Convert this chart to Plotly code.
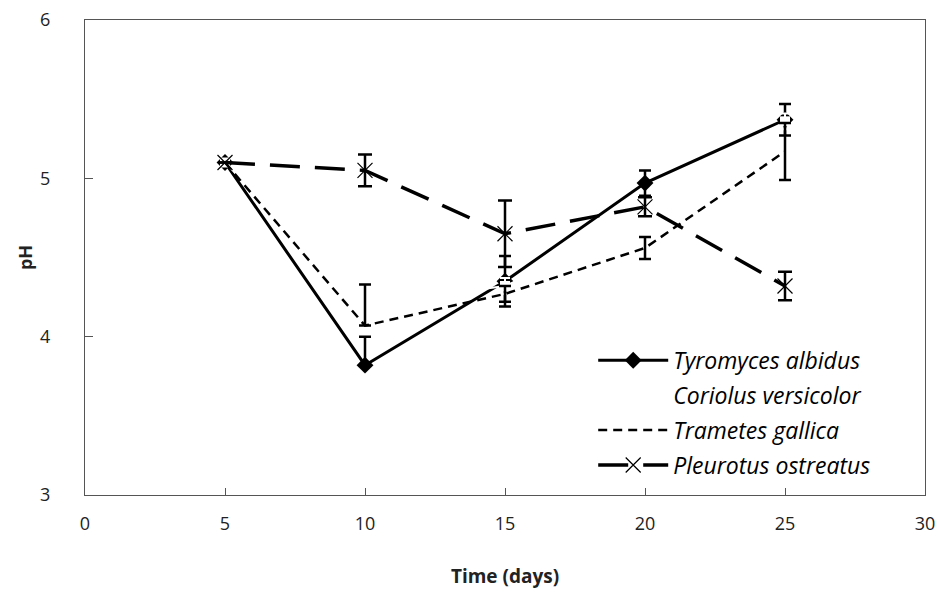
import plotly.graph_objects as go

days = [5, 10, 15, 20, 25]

tyromyces = [5.10, 3.82, 4.35, 4.97, 5.37]
tyromyces_err_up = [0.0, 0.18, 0.16, 0.08, 0.10]
tyromyces_err_dn = [0.0, 0.0, 0.16, 0.08, 0.10]

coriolus = [5.10, 4.20, 4.32, 4.70, 5.36]
coriolus_err = [0.0, 0.05, 0.05, 0.05, 0.05]

trametes = [5.10, 4.07, 4.27, 4.56, 5.17]
trametes_err_up = [0.0, 0.26, 0.05, 0.07, 0.18]
trametes_err_dn = [0.0, 0.0, 0.05, 0.07, 0.18]

pleurotus = [5.10, 5.05, 4.65, 4.82, 4.32]
pleurotus_err = [0.0, 0.10, 0.21, 0.06, 0.09]

x_ticks = [0, 5, 10, 15, 20, 25, 30]
y_ticks = [3, 4, 5, 6]

FONT = "Open Sans"

fig = go.Figure()

fig.add_trace(go.Scatter(
    x=days, y=tyromyces, name="Tyromyces albidus", mode="lines+markers",
    legendgroup="a",
    line=dict(color="black", width=3),
    marker=dict(symbol="diamond", size=13, color="black"),
    error_y=dict(type="data", array=tyromyces_err_up, arrayminus=tyromyces_err_dn,
                 color="black", thickness=2.5, width=6),
))
fig.add_trace(go.Scatter(
    x=days, y=coriolus, name="Coriolus versicolor", mode="lines+markers",
    legendgroup="b",
    line=dict(color="white", width=2),
    marker=dict(symbol="square", size=10, color="white"),
    error_y=dict(type="data", array=coriolus_err, color="white", thickness=2, width=5),
))
fig.add_trace(go.Scatter(
    x=days, y=trametes, name="Trametes gallica", mode="lines",
    legendgroup="c",
    line=dict(color="black", width=2.5, dash="9px,6px"),
    error_y=dict(type="data", array=trametes_err_up, arrayminus=trametes_err_dn,
                 color="black", thickness=2.5, width=6),
))
fig.add_trace(go.Scatter(
    x=days, y=pleurotus, name="Pleurotus ostreatus", mode="lines+markers",
    legendgroup="d",
    line=dict(color="black", width=3.5, dash="30px,15px"),
    marker=dict(symbol="x-thin-open", size=15, line=dict(color="#555555", width=1.2)),
    error_y=dict(type="data", array=pleurotus_err, color="black", thickness=2.5, width=7),
))

fig.update_layout(
    width=938, height=594,
    margin=dict(l=85, r=13, t=20, b=99, autoexpand=False),
    paper_bgcolor="white", plot_bgcolor="white",
    font=dict(family=FONT, color="#222222", size=17),
    showlegend=True,
    legend=dict(
        x=0.605, y=0.173, xanchor="left", yanchor="middle",
        font=dict(family=FONT, size=23, style="italic", color="black"),
        bgcolor="rgba(0,0,0,0)", itemwidth=70, tracegroupgap=2,
    ),
    xaxis=dict(
        range=[0, 30], tickvals=x_ticks, ticktext=[str(v) for v in x_ticks],
        showgrid=False, zeroline=False, showline=True, mirror=True,
        linecolor="#555555", linewidth=1, ticks="inside", ticklen=7,
        tickcolor="#555555", tickfont=dict(size=18, family=FONT),
        ticklabelstandoff=12,
        title=dict(text="<b>Time (days)</b>", font=dict(size=19, family=FONT), standoff=36),
    ),
    yaxis=dict(
        range=[3, 6], tickvals=y_ticks, ticktext=[str(v) for v in y_ticks],
        showgrid=False, zeroline=False, showline=True, mirror=True,
        linecolor="#555555", linewidth=1, ticks="inside", ticklen=8,
        tickcolor="#555555", tickfont=dict(size=18, family=FONT),
        ticklabelstandoff=30,
        title=dict(text="<b>pH</b>", font=dict(size=18, family=FONT), standoff=2),
    ),
)

fig.write_html("out.html")
